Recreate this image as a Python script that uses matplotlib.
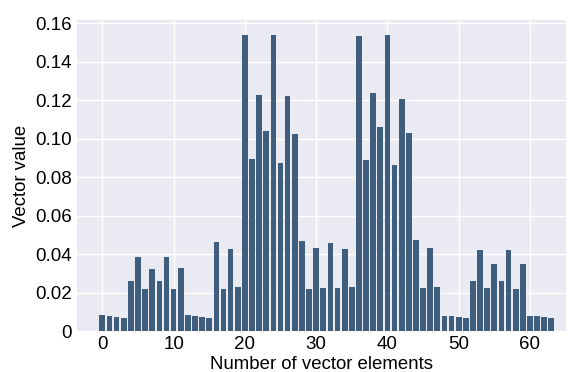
import numpy as np
import matplotlib
matplotlib.use('Agg')
import matplotlib.pyplot as plt
from matplotlib.ticker import FuncFormatter

# Valores (64 elementos)
indices = list(range(64))
valores = [
    0.0082, 0.0076, 0.0071, 0.0066, 0.0258, 0.0383, 0.0217, 0.0321,
    0.0258, 0.0383, 0.0217, 0.0326, 0.0082, 0.0076, 0.0071, 0.0066,
    0.0461, 0.0217, 0.0425, 0.0227, 0.1538, 0.0893, 0.1225, 0.1039,
    0.1538, 0.0872, 0.1220, 0.1023, 0.0466, 0.0217, 0.0430, 0.0222,
    0.0456, 0.0222, 0.0425, 0.0227, 0.1532, 0.0888, 0.1235, 0.1059,
    0.1538, 0.0862, 0.1206, 0.1030, 0.0472, 0.0222, 0.0430, 0.0227,
    0.0076, 0.0076, 0.0071, 0.0066, 0.0258, 0.0420, 0.0222, 0.0347,
    0.0258, 0.0420, 0.0217, 0.0347, 0.0076, 0.0076, 0.0071, 0.0066,
]

plt.style.use('seaborn-v0_8-darkgrid')
plt.rcParams['font.family'] = ['Liberation Sans', 'DejaVu Sans']
plt.rcParams['text.color'] = 'black'
plt.rcParams['axes.labelcolor'] = 'black'
plt.rcParams['xtick.color'] = 'black'
plt.rcParams['ytick.color'] = 'black'

fig = plt.figure(figsize=(5.68, 3.72), dpi=100)
ax = fig.add_axes([0.135, 0.110, 0.862, 0.836])
ax.set_facecolor('#eaeaf2')

ax.bar(indices, valores, width=0.8, color='#3f5d7d')

ax.set_xlim(-3.6, 65.1)
ax.set_ylim(0, 0.1616)
ax.set_xticks([0, 10, 20, 30, 40, 50, 60])
ax.set_yticks(np.arange(0, 0.17, 0.02))
ax.yaxis.set_major_formatter(FuncFormatter(lambda v, p: '0' if abs(v) < 1e-9 else '%.2f' % v))
ax.tick_params(labelsize=13.5, length=0)
ax.set_xlabel('Number of vector elements', fontsize=13.4, labelpad=2)
ax.set_ylabel('Vector value', fontsize=13.4)
ax.grid(True, color='white', linewidth=1)
for s in ax.spines.values():
    s.set_visible(False)

fig.savefig('out.png', dpi=100)
